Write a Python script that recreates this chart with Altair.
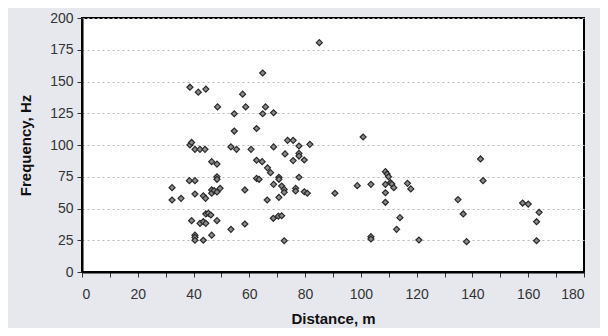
import altair as alt
import pandas as pd

distance = [38.7, 41.7, 44.4, 48.6, 54.6, 54.6, 57.6, 58.7, 62.6, 64.8, 64.8, 65.8,
            38.7, 39.3, 40.5, 42.3, 44.1, 53.4, 55.4, 60.6, 62.6, 64.6, 66.5,
            46.5, 48.4, 48.4, 48.4, 38.5, 40.5, 32.3, 32.3, 35.5, 40.5, 43.5, 44.3,
            46.5, 46.5, 47.4, 48.4, 49.5, 58.4, 62.6, 63.5, 66.4,
            44.4, 45.3, 46.2, 39.3, 42.3, 43.5, 44.4, 48.4, 40.5, 40.5, 40.5, 43.5,
            46.5, 53.4, 58.4, 85.1, 68.7, 100.8, 73.7, 75.7, 68.7, 77.8, 81.7,
            77.8, 77.8, 72.8, 75.7, 79.7, 67.6, 70.6, 70.6, 77.8, 68.7, 71.6,
            72.5, 72.5, 76.6, 76.6, 79.7, 80.8, 70.6, 90.7, 98.7, 103.6,
            108.8, 109.4, 109.9, 110.6, 111.1, 111.8, 108.8, 108.8, 108.8,
            116.7, 117.9, 134.8, 68.6, 70.4, 71.6, 72.5, 114.0, 112.8, 103.6, 103.6,
            120.8, 142.9, 143.8, 136.7, 137.9, 158.0, 160.0, 163.9, 163.0, 163.0]
frequency = [145.5, 141.6, 144.0, 130.0, 124.6, 111.0, 140.0, 130.0, 113.0, 156.7, 124.6, 130.0,
             100.0, 102.0, 96.6, 96.6, 96.6, 98.5, 96.6, 96.6, 88.0, 86.9, 82.0,
             86.9, 85.0, 75.0, 73.0, 71.9, 71.9, 66.4, 56.7, 58.0, 61.4, 60.0, 58.0,
             64.6, 62.0, 64.0, 63.0, 65.9, 64.6, 73.7, 73.0, 56.7,
             45.7, 46.2, 44.9, 40.4, 38.3, 39.6, 38.3, 40.4, 29.0, 27.3, 25.0, 25.0,
             29.0, 33.6, 37.8, 180.6, 125.4, 106.3, 103.7, 103.7, 98.5, 99.2, 100.5,
             93.4, 91.3, 93.0, 87.7, 88.2, 78.2, 74.6, 73.0, 74.6, 69.0, 67.7,
             65.0, 62.7, 65.9, 63.8, 63.2, 62.0, 58.8, 62.0, 68.0, 69.0,
             79.0, 77.2, 75.0, 70.3, 69.3, 66.4, 69.0, 62.4, 54.9,
             69.8, 65.4, 57.0, 42.3, 44.0, 44.3, 24.6, 42.8, 33.6, 27.8, 26.0,
             25.2, 89.0, 71.9, 45.7, 23.9, 54.3, 53.5, 47.0, 39.6, 24.6]

x_ticks = list(range(0, 181, 10))
y_ticks = list(range(0, 201, 25))

df = pd.DataFrame({"Distance": distance, "Frequency": frequency})

FONT = "Liberation Sans"

chart = alt.Chart(df).mark_point(
    shape="diamond", filled=True, size=36, fill="#8a8a8a", stroke="#2a2a2a", strokeWidth=1.2, opacity=1
).encode(
    x=alt.X("Distance:Q", title="Distance, m",
            scale=alt.Scale(domain=[0, 180], nice=False, zero=True),
            axis=alt.Axis(values=x_ticks, grid=False,
                          labelExpr="datum.value % 20 == 0 ? datum.label : ''",
                          tickSize=5, labelPadding=10, titlePadding=10)),
    y=alt.Y("Frequency:Q", title="Frequency, Hz",
            scale=alt.Scale(domain=[0, 200], nice=False),
            axis=alt.Axis(values=y_ticks, grid=True, gridDash=[2, 3], gridColor="#b8b8b8",
                          tickSize=5, labelPadding=4, titlePadding=16)),
).properties(
    width=502, height=254,
    padding={"left": 74, "top": 10, "right": 16, "bottom": 56},
    autosize=alt.AutoSizeParams(type="none"),
    background="#e7e8ee",
).configure_view(
    fill="white", stroke="black", strokeWidth=2
).configure_axis(
    labelFont=FONT, titleFont=FONT, labelFontSize=14, titleFontSize=15,
    labelColor="#333333", titleColor="#111111", titleFontWeight="bold",
    domainColor="black", domainWidth=2, tickColor="#333333", tickWidth=1
)

chart.save("out.html", embed_options={"renderer": "svg", "actions": False})
